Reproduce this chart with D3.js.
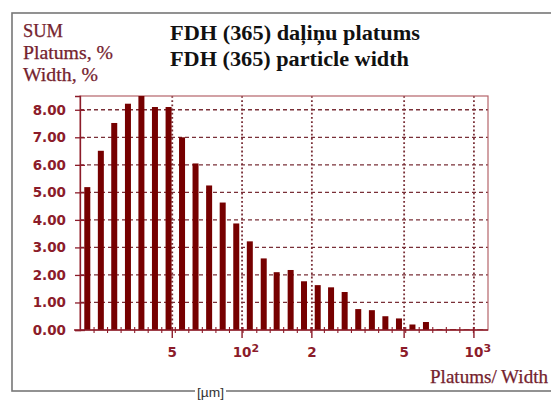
<!DOCTYPE html>
<html>
<head>
<meta charset="utf-8">
<script src="https://cdn.jsdelivr.net/npm/d3@7"></script>
<style>
  html, body { margin: 0; padding: 0; background: #fff; }
  svg { display: block; }
</style>
</head>
<body>
<svg id="chart" width="551" height="400"></svg>
<script>
// Particle width classes (bin centres, µm) and the share of particles in each (%)
const sizes = [21.5, 24.6, 28.1, 32.2, 36.8, 42.1, 48.2, 55.1, 63.0, 72.1,
               82.5, 94.4, 108, 124, 141, 162, 185, 212, 242, 277,
               317, 363, 415, 475, 543, 621, 711, 813, 930, 1064];
const widthShare = [5.19, 6.51, 7.52, 8.22, 8.50, 8.10, 8.10, 7.00, 6.05, 5.25,
                    4.63, 3.87, 3.22, 2.60, 2.10, 2.18, 1.77, 1.63, 1.55, 1.38,
                    0.76, 0.72, 0.50, 0.42, 0.20, 0.29, 0.03, 0.03, 0.02, 0.02];

const yTicks = [0, 1, 2, 3, 4, 5, 6, 7, 8];
const xMajor = [50, 100, 200, 500, 1000];
const xMajorLabels = [["5", ""], ["10", "2"], ["2", ""], ["5", ""], ["10", "3"]];

const titleLines = ["FDH (365) daļiņu platums", "FDH (365) particle width"];
const yTitleLines = ["SUM", "Platums, %", "Width, %"];
const xTitle = "Platums/ Width";
const unitLabel = "[µm]";

const red = "#760000";
const axisRed = "#8c1c2a";
const labelRed = "#74222e";
const gridRed = "#7a3038";

const svg = d3.select("#chart");

const plot = { left: 80, right: 488, top: 96, bottom: 330 };

const x = d3.scaleLog().domain([20, 1150]).range([plot.left, plot.right]);
const y = d3.scaleLinear().domain([0, 8.5]).range([plot.bottom, plot.top]);

// outer frame
svg.append("rect")
  .attr("x", 12).attr("y", 13).attr("width", 620).attr("height", 378)
  .attr("fill", "none").attr("stroke", "#777").attr("stroke-width", 1.6);

// unit label breaking the bottom frame line
svg.append("rect").attr("x", 195).attr("y", 385).attr("width", 31).attr("height", 15).attr("fill", "#fff");
svg.append("text")
  .attr("x", 210.5).attr("y", 397)
  .attr("text-anchor", "middle")
  .attr("font-family", "Liberation Sans, Arial, sans-serif")
  .attr("font-size", 12.5).attr("fill", "#333")
  .attr("textLength", 27).attr("lengthAdjust", "spacingAndGlyphs")
  .text(unitLabel);

// titles
svg.selectAll("text.title").data(titleLines).enter().append("text")
  .attr("class", "title")
  .attr("x", 170)
  .attr("y", (d, i) => 40 + i * 26)
  .attr("font-family", "Liberation Serif, Times New Roman, serif")
  .attr("font-weight", "bold").attr("font-size", 20.5).attr("fill", "#111")
  .attr("textLength", (d, i) => i === 0 ? 250 : 239)
  .attr("lengthAdjust", "spacingAndGlyphs")
  .text(d => d);

svg.selectAll("text.ytitle").data(yTitleLines).enter().append("text")
  .attr("class", "ytitle")
  .attr("x", 23)
  .attr("y", (d, i) => [36.5, 59, 80.5][i])
  .attr("font-family", "Liberation Serif, Times New Roman, serif")
  .attr("font-size", 18).attr("fill", labelRed)
  .attr("stroke", labelRed).attr("stroke-width", 0.25)
  .attr("textLength", (d, i) => [40, 90, 75][i])
  .attr("lengthAdjust", "spacingAndGlyphs")
  .text(d => d);

svg.append("text")
  .attr("x", 430).attr("y", 383)
  .attr("font-family", "Liberation Serif, Times New Roman, serif")
  .attr("font-size", 18).attr("fill", labelRed)
  .attr("stroke", labelRed).attr("stroke-width", 0.25)
  .attr("textLength", 118).attr("lengthAdjust", "spacingAndGlyphs")
  .text(xTitle);

// grid
const grid = svg.append("g");
grid.selectAll("line.h").data(yTicks.filter(d => d > 0)).enter().append("line")
  .attr("x1", plot.left).attr("x2", plot.right)
  .attr("y1", d => y(d)).attr("y2", d => y(d))
  .attr("stroke", gridRed).attr("stroke-width", 1.3)
  .attr("stroke-dasharray", "4,3");
grid.selectAll("line.v").data(xMajor).enter().append("line")
  .attr("x1", d => x(d)).attr("x2", d => x(d))
  .attr("y1", plot.top).attr("y2", plot.bottom)
  .attr("stroke", gridRed).attr("stroke-width", 1.8)
  .attr("stroke-dasharray", "1.8,2.4");

// plot border
svg.append("rect")
  .attr("x", plot.left).attr("y", plot.top)
  .attr("width", plot.right - plot.left).attr("height", plot.bottom - plot.top)
  .attr("fill", "none").attr("stroke", "#b5646a").attr("stroke-width", 1.2);

// bars
svg.append("g").selectAll("rect").data(sizes).enter().append("rect")
  .attr("x", d => x(d) - 3)
  .attr("width", 6)
  .attr("y", (d, i) => y(widthShare[i]))
  .attr("height", (d, i) => plot.bottom - y(widthShare[i]))
  .attr("fill", red);

// y axis
const yAxis = d3.axisLeft(y).tickValues(yTicks).tickFormat(d3.format(".2f"))
  .tickSize(5).tickPadding(9);
const yg = svg.append("g").attr("transform", `translate(${plot.left},0)`).call(yAxis);
yg.select(".domain").attr("stroke", axisRed).attr("stroke-width", 1.3);
yg.selectAll(".tick line").attr("stroke", axisRed).attr("stroke-width", 1.3).attr("x2", 5).attr("x1", -5);
yg.selectAll(".tick text")
  .attr("font-family", "DejaVu Sans, Verdana, sans-serif")
  .attr("font-weight", "bold").attr("font-size", 13.5).attr("fill", axisRed);

// x axis line with minor ticks at class boundaries and major decade ticks
const xg = svg.append("g");
xg.append("line")
  .attr("x1", plot.left - 6).attr("x2", plot.right)
  .attr("y1", plot.bottom).attr("y2", plot.bottom)
  .attr("stroke", axisRed).attr("stroke-width", 1.4);
const bounds = d3.pairs(sizes).map(([a, b]) => Math.sqrt(a * b));
xg.selectAll("line.minor").data(bounds).enter().append("line")
  .attr("x1", d => x(d)).attr("x2", d => x(d))
  .attr("y1", plot.bottom - 3).attr("y2", plot.bottom + 3)
  .attr("stroke", axisRed).attr("stroke-width", 1.1);
xg.selectAll("line.major").data(xMajor).enter().append("line")
  .attr("x1", d => x(d)).attr("x2", d => x(d))
  .attr("y1", plot.bottom - 3).attr("y2", plot.bottom + 8)
  .attr("stroke", axisRed).attr("stroke-width", 1.4);

const lab = xg.selectAll("g.lab").data(xMajor).enter().append("g")
  .attr("transform", d => `translate(${x(d)},357)`);
lab.append("text")
  .attr("text-anchor", "middle")
  .attr("font-family", "DejaVu Sans, Verdana, sans-serif")
  .attr("font-weight", "bold").attr("font-size", 13.5).attr("fill", axisRed)
  .text((d, i) => xMajorLabels[i][0]);
lab.append("text")
  .attr("x", 9.5).attr("y", -5)
  .attr("font-family", "DejaVu Sans, Verdana, sans-serif")
  .attr("font-weight", "bold").attr("font-size", 11).attr("fill", axisRed)
  .text((d, i) => xMajorLabels[i][1]);
</script>
</body>
</html>
